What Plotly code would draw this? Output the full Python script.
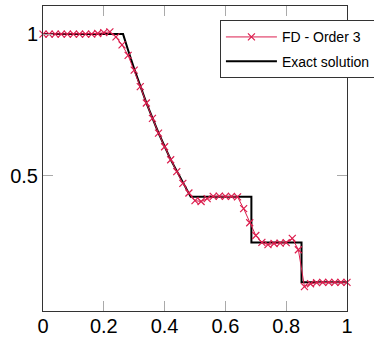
import plotly.graph_objects as go

# FD - Order 3 samples (x step 0.02)
fd_x = [i * 0.02 for i in range(51)]
fd_y = [1.0, 1.0, 1.0, 1.0, 1.0, 1.0, 1.0, 1.0, 1.0, 1.002,
        1.005, 1.008, 0.99, 0.962, 0.925, 0.873, 0.815, 0.757, 0.703, 0.651,
        0.603, 0.557, 0.515, 0.474, 0.44, 0.413, 0.41, 0.42, 0.428, 0.429,
        0.428, 0.428, 0.426, 0.385, 0.335, 0.29, 0.266, 0.258, 0.262, 0.263,
        0.265, 0.28, 0.24, 0.11, 0.12, 0.124, 0.125, 0.125, 0.125, 0.125, 0.125]

# Exact solution
ex_x = [0.0, 0.2634, 0.28, 0.30, 0.34, 0.38, 0.42, 0.46, 0.4859, 0.6855, 0.6855, 0.8504, 0.8504, 1.0]
ex_y = [1.0, 1.0, 0.9428, 0.8776, 0.7577, 0.6514, 0.5574, 0.4745, 0.4263, 0.4263, 0.2656, 0.2656, 0.125, 0.125]

x_ticks = [0, 0.2, 0.4, 0.6, 0.8, 1]
x_tick_text = ["0", "0.2", "0.4", "0.6", "0.8", "1"]
y_ticks = [0.5, 1]
y_tick_text = ["0.5", "1"]

red = "#DC1E4E"
fig = go.Figure()
fig.add_trace(go.Scatter(x=ex_x, y=ex_y, mode="lines", name="Exact solution",
                         line=dict(color="black", width=2), legendrank=2,
                         legendgroup="b"))
fig.add_trace(go.Scatter(x=fd_x, y=fd_y, mode="lines+markers", name="FD - Order 3",
                         line=dict(color=red, width=1),
                         marker=dict(symbol="x-thin", size=7, color=red,
                                     line=dict(color=red, width=1.2)),
                         cliponaxis=False, legendrank=1, legendgroup="a"))

axis_common = dict(showgrid=False, zeroline=False, showline=True, linecolor="#333",
                   linewidth=1, mirror="ticks", ticks="inside", ticklen=10,
                   tickcolor="#aaa", tickwidth=1, automargin=False,
                   tickfont=dict(family="Liberation Sans", size=20, color="black"))
fig.update_xaxes(range=[0, 1], tickvals=x_ticks, ticktext=x_tick_text,
                 ticklabelstandoff=-3, **axis_common)
fig.update_yaxes(range=[0.024, 1.099], tickvals=y_ticks, ticktext=y_tick_text, **axis_common)

fig.update_layout(
    width=374, height=337,
    margin=dict(l=43, r=27, t=6, b=26, autoexpand=False),
    plot_bgcolor="white", paper_bgcolor="white",
    showlegend=True,
    legend=dict(x=0.582, y=0.953, xanchor="left", yanchor="top",
                bgcolor="white", bordercolor="#333", borderwidth=1,
                font=dict(family="Liberation Sans", size=14, color="black"),
                itemwidth=51, tracegroupgap=3, traceorder="grouped"),
)
fig.write_html("out.html")
